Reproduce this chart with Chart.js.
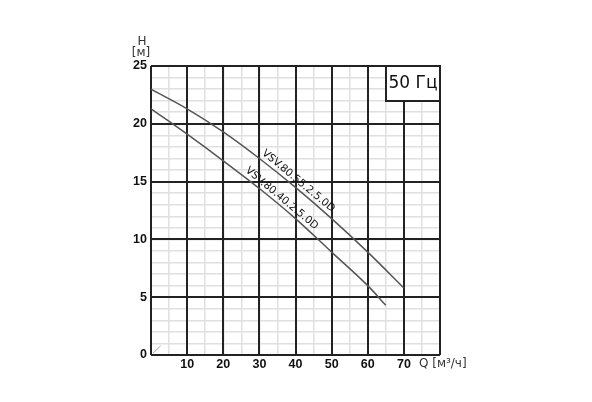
<!DOCTYPE html>
<html>
<head>
<meta charset="utf-8">
<script src="https://cdn.jsdelivr.net/npm/chart.js@4/dist/chart.umd.min.js"></script>
<style>
  html, body { margin: 0; padding: 0; background: #fff; }
  #wrap { width: 592px; height: 402px; }
</style>
</head>
<body>
<div id="wrap"><canvas id="pumpChart" width="592" height="402"></canvas></div>
<script>
// pump curves
const flowUpper = [0, 10, 20, 30, 40, 50, 60, 70];
const headUpper = [23.0, 21.3, 19.3, 17.0, 14.5, 11.8, 8.9, 5.8];
const flowLower = [0, 10, 20, 30, 40, 50, 60, 65];
const headLower = [21.3, 19.1, 16.8, 14.4, 11.8, 8.9, 6.0, 4.3];
const originMarkQ = [0.5, 2.7];
const originMarkH = [0.15, 0.8];

const curveNames = ['VSV.80.55.2.5.0D', 'VSV.80.40.2.5.0D'];
const labelAtQ = [39.6, 35.0];
const freqLabel = '50 Гц';

const xRange = [0, 80];
const yRange = [0, 25];

function toPoints(xs, ys) {
    return xs.map((x, i) => ({ x: x, y: ys[i] }));
}

function interp(xs, ys, q) {
    for (let i = 0; i < xs.length - 1; i++) {
        if (q >= xs[i] && q <= xs[i + 1]) {
            const t = (q - xs[i]) / (xs[i + 1] - xs[i]);
            return ys[i] + t * (ys[i + 1] - ys[i]);
        }
    }
    return ys[ys.length - 1];
}

// labels, axis titles and the frequency box
const annotations = {
    id: 'annotations',
    afterDatasetsDraw(chart) {
        const ctx = chart.ctx;
        const xs = chart.scales.x, ys = chart.scales.y;
        const curves = [[flowUpper, headUpper], [flowLower, headLower]];

        ctx.save();
        ctx.fillStyle = '#111';
        ctx.font = '10.5px "DejaVu Sans"';
        ctx.textAlign = 'center';
        ctx.textBaseline = 'alphabetic';
        curves.forEach((c, i) => {
            const q = labelAtQ[i];
            const px = xs.getPixelForValue(q);
            const py = ys.getPixelForValue(interp(c[0], c[1], q));
            const ax = xs.getPixelForValue(q - 6), ay = ys.getPixelForValue(interp(c[0], c[1], q - 6));
            const bx = xs.getPixelForValue(q + 6), by = ys.getPixelForValue(interp(c[0], c[1], q + 6));
            ctx.save();
            ctx.translate(px, py);
            ctx.rotate(Math.atan2(by - ay, bx - ax));
            ctx.fillText(curveNames[i], 0, -4);
            ctx.restore();
        });
        ctx.restore();

        // 50 Hz box in the top right corner
        const right = xs.getPixelForValue(xRange[1]);
        const top = ys.getPixelForValue(yRange[1]);
        ctx.save();
        ctx.fillStyle = '#fff';
        ctx.fillRect(right - 54, top, 54, 35);
        ctx.strokeStyle = '#222';
        ctx.lineWidth = 2;
        ctx.strokeRect(right - 54, top, 54, 35);
        ctx.fillStyle = '#111';
        ctx.font = '17px "DejaVu Sans"';
        ctx.textAlign = 'center';
        ctx.textBaseline = 'middle';
        ctx.fillText(freqLabel, right - 27, top + 18);
        ctx.restore();

        // axis titles
        ctx.save();
        ctx.fillStyle = '#333';
        ctx.font = '12px "DejaVu Sans"';
        ctx.textAlign = 'center';
        ctx.textBaseline = 'middle';
        ctx.fillText('H', 142, 42);
        ctx.fillText('[м]', 141, 53);
        ctx.textAlign = 'left';
        ctx.fillText('Q [м³/ч]', 419, 364);
        ctx.restore();
    }
};

const tickFont = { family: 'Liberation Sans', size: 12.5, weight: 'bold' };

new Chart(document.getElementById('pumpChart'), {
    type: 'line',
    data: {
        datasets: [
            {
                label: curveNames[0],
                data: toPoints(flowUpper, headUpper),
                borderColor: '#555',
                borderWidth: 1.5,
                pointRadius: 0,
                cubicInterpolationMode: 'monotone'
            },
            {
                label: curveNames[1],
                data: toPoints(flowLower, headLower),
                borderColor: '#555',
                borderWidth: 1.5,
                pointRadius: 0,
                cubicInterpolationMode: 'monotone'
            },
            {
                label: 'origin',
                data: toPoints(originMarkQ, originMarkH),
                borderColor: '#aaa',
                borderWidth: 1,
                pointRadius: 0
            }
        ]
    },
    options: {
        responsive: false,
        animation: false,
        layout: { padding: { top: 66, right: 152, left: 0, bottom: 0 } },
        plugins: {
            legend: { display: false },
            tooltip: { enabled: false }
        },
        scales: {
            x: {
                type: 'linear',
                min: xRange[0], max: xRange[1],
                z: -1,
                afterFit: s => { s.height = 47; },
                border: { display: false },
                grid: { color: '#e0e0e0', lineWidth: 1.5, drawTicks: false },
                ticks: {
                    stepSize: 5,
                    autoSkip: false,
                    maxRotation: 0,
                    padding: 2,
                    color: '#111',
                    font: tickFont,
                    callback: v => (v % 10 === 0 && v > 0 && v < 80) ? v : ''
                }
            },
            y: {
                type: 'linear',
                min: yRange[0], max: yRange[1],
                z: -1,
                afterFit: s => { s.width = 151; },
                border: { display: false },
                grid: { color: '#e0e0e0', lineWidth: 1.5, drawTicks: false },
                ticks: {
                    stepSize: 1,
                    autoSkip: false,
                    padding: 4,
                    color: '#111',
                    font: tickFont,
                    callback: v => v % 5 === 0 ? v : ''
                }
            },
            // major grid drawn on top of the minor one
            xMajor: {
                type: 'linear',
                position: 'bottom',
                min: xRange[0], max: xRange[1],
                afterFit: s => { s.height = 0; },
                border: { display: false },
                grid: { color: '#222', lineWidth: 2, drawTicks: false },
                ticks: { stepSize: 10, display: false }
            },
            yMajor: {
                type: 'linear',
                position: 'left',
                min: yRange[0], max: yRange[1],
                afterFit: s => { s.width = 0; },
                border: { display: false },
                grid: { color: '#222', lineWidth: 2, drawTicks: false },
                ticks: { stepSize: 5, display: false }
            }
        }
    },
    plugins: [annotations]
});
</script>
</body>
</html>
